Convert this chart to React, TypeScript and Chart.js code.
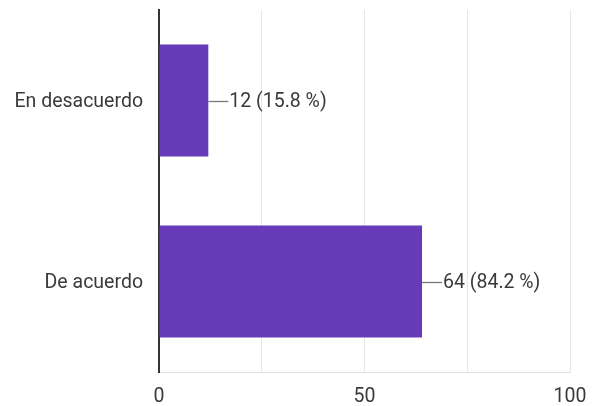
import React, { useEffect, useRef } from "react";
import { Chart, registerables } from "chart.js";

Chart.register(...registerables);

const categories = ["En desacuerdo", "De acuerdo"];
const counts = [12, 64];
const xTickLabels: Record<number, string> = { 0: "0", 50: "50", 100: "100" };

const FONT = "Roboto, 'Noto Sans', Arial, sans-serif";
const FONT_SIZE = 19.5;
const TEXT_COLOR = "#3a3a3a";

const labelPlugin = {
  id: "barValueLabels",
  afterDatasetsDraw(chart: any) {
    const ctx = chart.ctx;
    const meta = chart.getDatasetMeta(0);
    const total = counts.reduce((a, b) => a + b, 0);
    ctx.save();
    meta.data.forEach((bar: any, i: number) => {
      const x = bar.x;
      const y = bar.y;
      ctx.strokeStyle = "#7a7a7a";
      ctx.lineWidth = 1.3;
      ctx.beginPath();
      ctx.moveTo(x, Math.round(y) + 0.5);
      ctx.lineTo(x + 20, Math.round(y) + 0.5);
      ctx.stroke();
      const pct = ((counts[i] / total) * 100).toFixed(1);
      ctx.fillStyle = TEXT_COLOR;
      ctx.font = `${FONT_SIZE}px ${FONT}`;
      ctx.textAlign = "left";
      ctx.textBaseline = "middle";
      ctx.fillText(`${counts[i]} (${pct} %)`, x + 21, y + 2);
    });
    ctx.restore();
  },
};

export default function App() {
  const ref = useRef<HTMLCanvasElement>(null);
  useEffect(() => {
    document.body.style.margin = "0";
    const chart = new Chart(ref.current!, {
      type: "bar",
      data: {
        labels: categories,
        datasets: [
          {
            data: counts,
            backgroundColor: "#673AB7",
            borderWidth: 0,
            barPercentage: 0.62,
            categoryPercentage: 1,
          },
        ],
      },
      options: {
        indexAxis: "y",
        animation: false,
        responsive: false,
        maintainAspectRatio: false,
        layout: { padding: { top: 10, right: 27, bottom: 0, left: 0 } },
        plugins: {
          legend: { display: false },
          tooltip: { enabled: false },
        },
        scales: {
          x: {
            min: 0,
            max: 100,
            afterFit(scale: any) {
              scale.height = 34;
              scale.paddingLeft = 0;
              scale.paddingRight = 0;
            },
            ticks: {
              stepSize: 25,
              autoSkip: false,
              maxRotation: 0,
              padding: 13,
              color: TEXT_COLOR,
              font: { family: FONT, size: FONT_SIZE },
              callback: (v: any) => xTickLabels[Number(v)] ?? "",
            },
            grid: { color: "#e6e6e6", lineWidth: 1, drawTicks: false },
            border: { color: "#e0e0e0", width: 1 },
          },
          y: {
            afterFit(scale: any) {
              scale.width = 159;
              scale.paddingTop = 0;
              scale.paddingBottom = 0;
            },
            ticks: {
              padding: 16,
              labelOffset: 2,
              color: TEXT_COLOR,
              font: { family: FONT, size: FONT_SIZE },
            },
            grid: { display: false, drawTicks: false },
            border: { color: "#333333", width: 2 },
          },
        },
      },
      plugins: [labelPlugin],
    });
    return () => chart.destroy();
  }, []);
  return (
    <div style={{ position: "absolute", left: 0, top: 0, width: 597, height: 406 }}>
      <canvas ref={ref} width={597} height={406} />
    </div>
  );
}
